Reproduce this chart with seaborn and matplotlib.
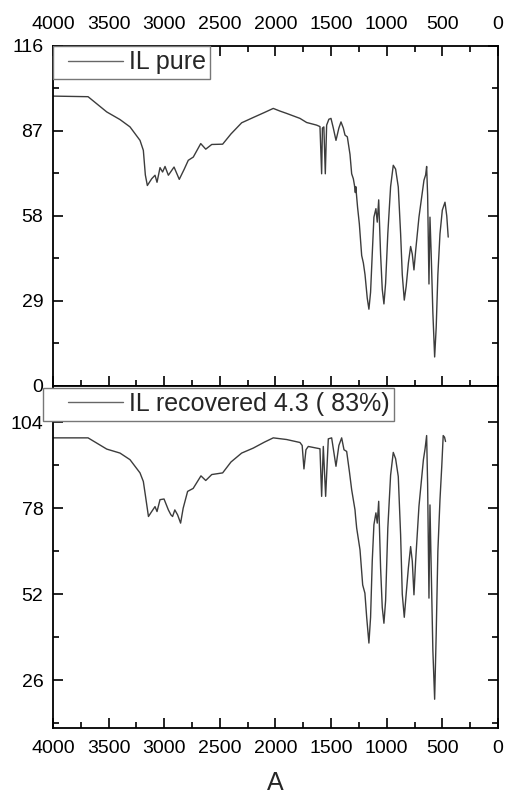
import matplotlib
matplotlib.use("Agg")
import matplotlib.pyplot as plt
import seaborn as sns
from matplotlib.ticker import MultipleLocator
from matplotlib.legend_handler import HandlerLine2D

# IL pure spectrum (wavenumber, transmittance)
wn_pure = [4000, 3685, 3517, 3398, 3308, 3218, 3188, 3170, 3152, 3113, 3083, 3065, 3038, 3015,
           2993, 2963, 2912, 2865, 2820, 2784, 2739, 2672, 2627, 2573, 2475, 2400, 2304, 2200,
           2100, 2020, 1960, 1900, 1780, 1720, 1630, 1600, 1585, 1578, 1565, 1552, 1540, 1520,
           1501, 1480, 1456, 1430, 1411, 1390, 1375, 1354, 1330, 1315, 1300, 1290, 1282, 1278,
           1262, 1246, 1225, 1210, 1195, 1175, 1160, 1145, 1130, 1115, 1097, 1085, 1072, 1055,
           1040, 1025, 1010, 990, 965, 941, 920, 896, 875, 860, 842, 825, 805, 785, 770, 755,
           740, 710, 665, 650, 641, 632, 620, 611, 600, 585, 569, 555, 540, 521, 500, 476, 460, 447]
t_pure = [98.9, 98.7, 93.5, 90.9, 88.4, 83.8, 80.4, 72, 68.4, 70.7, 71.9, 69.5, 74.5, 73,
          74.9, 71.9, 74.7, 70.5, 74, 77, 78.1, 82.7, 80.8, 82.4, 82.5, 86, 89.8, 91.6,
          93.3, 94.7, 93.8, 93, 91.3, 89.9, 89, 88.5, 72.4, 88, 88.4, 72.4, 89, 91,
          91.3, 88, 83.8, 88, 90.1, 88, 85.6, 85, 79, 72.4, 70.7, 68.5, 66, 68,
          61, 55.3, 44.5, 42, 38, 30, 26.2, 32, 45, 57.6, 60.5, 55.9, 63.5, 45,
          33, 28, 35, 52, 68, 75.3, 74, 67.9, 52, 38, 29.3, 34, 42, 47.6, 45, 39.6,
          46, 57.6, 70.2, 72, 74.9, 65, 34.8, 57.6, 45, 25, 9.9, 20, 38, 51.9, 60, 62.7, 58, 50.8]

# IL recovered spectrum
wn_rec = [4000, 3685, 3517, 3398, 3308, 3218, 3188, 3170, 3142, 3113, 3083, 3065, 3038, 3002,
          2963, 2940, 2925, 2905, 2880, 2853, 2830, 2790, 2740, 2670, 2627, 2573, 2475, 2400,
          2304, 2200, 2100, 2020, 1900, 1780, 1760, 1744, 1726, 1705, 1630, 1600, 1585, 1570,
          1549, 1525, 1495, 1480, 1456, 1430, 1405, 1384, 1360, 1335, 1315, 1285, 1280, 1270,
          1240, 1216, 1196, 1180, 1160, 1145, 1130, 1115, 1097, 1085, 1072, 1055, 1040, 1025,
          1010, 990, 965, 941, 920, 896, 875, 860, 842, 825, 805, 785, 770, 755, 740, 710,
          670, 655, 641, 632, 620, 611, 600, 585, 569, 555, 540, 521, 505, 492, 480, 471]
t_rec = [99.3, 99.3, 95.9, 94.7, 92.7, 88.7, 86.1, 82, 75.5, 77, 78.5, 77, 80.6, 80.8,
         77.5, 76, 75.5, 77.5, 76, 73.5, 78, 83.1, 84, 87.8, 86.4, 88.2, 88.7, 92,
         94.7, 96.2, 98, 99.3, 98.8, 97.9, 97, 89.9, 95.7, 96.7, 96.2, 96, 81.6, 96.7,
         81.6, 99, 99.3, 96, 90.7, 97, 99.3, 95.7, 95.2, 89, 83.6, 77.5, 75.5, 72,
         65.4, 54.8, 52.3, 45, 37.2, 45, 62, 73, 76.6, 73.5, 80.1, 60, 48, 43.2,
         50, 72, 88, 94.9, 93, 87.6, 70, 52, 45, 52, 60, 66.4, 62, 51.8, 62, 78.6,
         92.7, 96, 100, 85, 50.8, 79, 60, 35, 20.2, 40, 65, 80.6, 90.7, 100, 99.5, 98.2]

x_ticks = list(range(4000, -1, -500))
y_ticks_pure = [0, 29, 58, 87, 116]
y_ticks_rec = [26, 52, 78, 104]

sns.set_theme(style="ticks")
plt.rcParams['font.family'] = ['Liberation Sans', 'DejaVu Sans']

fig = plt.figure(figsize=(5.05, 7.97), dpi=100)
ax1 = fig.add_axes([0.105, 0.5157, 0.881, 0.4266])
ax2 = fig.add_axes([0.105, 0.0866, 0.881, 0.4291])

line_col = "#3c3c3c"

sns.lineplot(x=wn_pure, y=t_pure, ax=ax1, color=line_col, linewidth=1.0,
             sort=False, estimator=None, label="IL pure")
sns.lineplot(x=wn_rec, y=t_rec, ax=ax2, color=line_col, linewidth=1.0,
             sort=False, estimator=None, label="IL recovered 4.3 ( 83%)")

for ax in (ax1, ax2):
    ax.set_xlim(4000, 0)
    ax.set_xticks(x_ticks)
    ax.xaxis.set_minor_locator(MultipleLocator(250))
    for s in ax.spines.values():
        s.set_linewidth(1.3)
        s.set_color("black")
    ax.tick_params(which="both", direction="in", right=True, colors="black",
                   labelsize=14, width=1.2)
    ax.tick_params(which="major", length=7)
    ax.tick_params(which="minor", length=4)
    ax.tick_params(axis="y", pad=7)

# top panel
ax1.set_ylim(0, 116)
ax1.set_yticks(y_ticks_pure)
ax1.yaxis.set_minor_locator(MultipleLocator(14.5))
ax1.tick_params(axis="x", which="both", top=True, bottom=True,
                labeltop=True, labelbottom=False, pad=9)
ax1.set_xlabel("")
ax1.set_ylabel("")

# bottom panel
ax2.set_ylim(11.5, 115)
ax2.set_yticks(y_ticks_rec)
ax2.yaxis.set_minor_locator(MultipleLocator(13))
ax2.tick_params(axis="x", which="both", top=False, bottom=True, pad=9)
ax2.set_xlabel("A", fontsize=18, labelpad=10)
ax2.set_ylabel("")

leg_kw = dict(fontsize=18, frameon=True, fancybox=False, framealpha=1,
              edgecolor="#777777", handletextpad=0.25,
              borderpad=0.18, borderaxespad=0)
h1, l1 = ax1.get_legend_handles_labels()
leg1 = ax1.legend(h1, l1, loc="upper left", bbox_to_anchor=(0, 1), handlelength=2.6,
                  handler_map={h1[0]: HandlerLine2D(xpad=0.4)}, **leg_kw)
h2, l2 = ax2.get_legend_handles_labels()
leg2 = ax2.legend(h2, l2, loc="upper left", bbox_to_anchor=(-0.0225, 0.995), handlelength=3.0,
                  handler_map={h2[0]: HandlerLine2D(xpad=0.8)}, **leg_kw)
for lg in (leg1, leg2):
    lg.get_frame().set_linewidth(1.0)
    for h in lg.get_lines():
        h.set_color("#666666")

fig.savefig("out.png", dpi=100)
